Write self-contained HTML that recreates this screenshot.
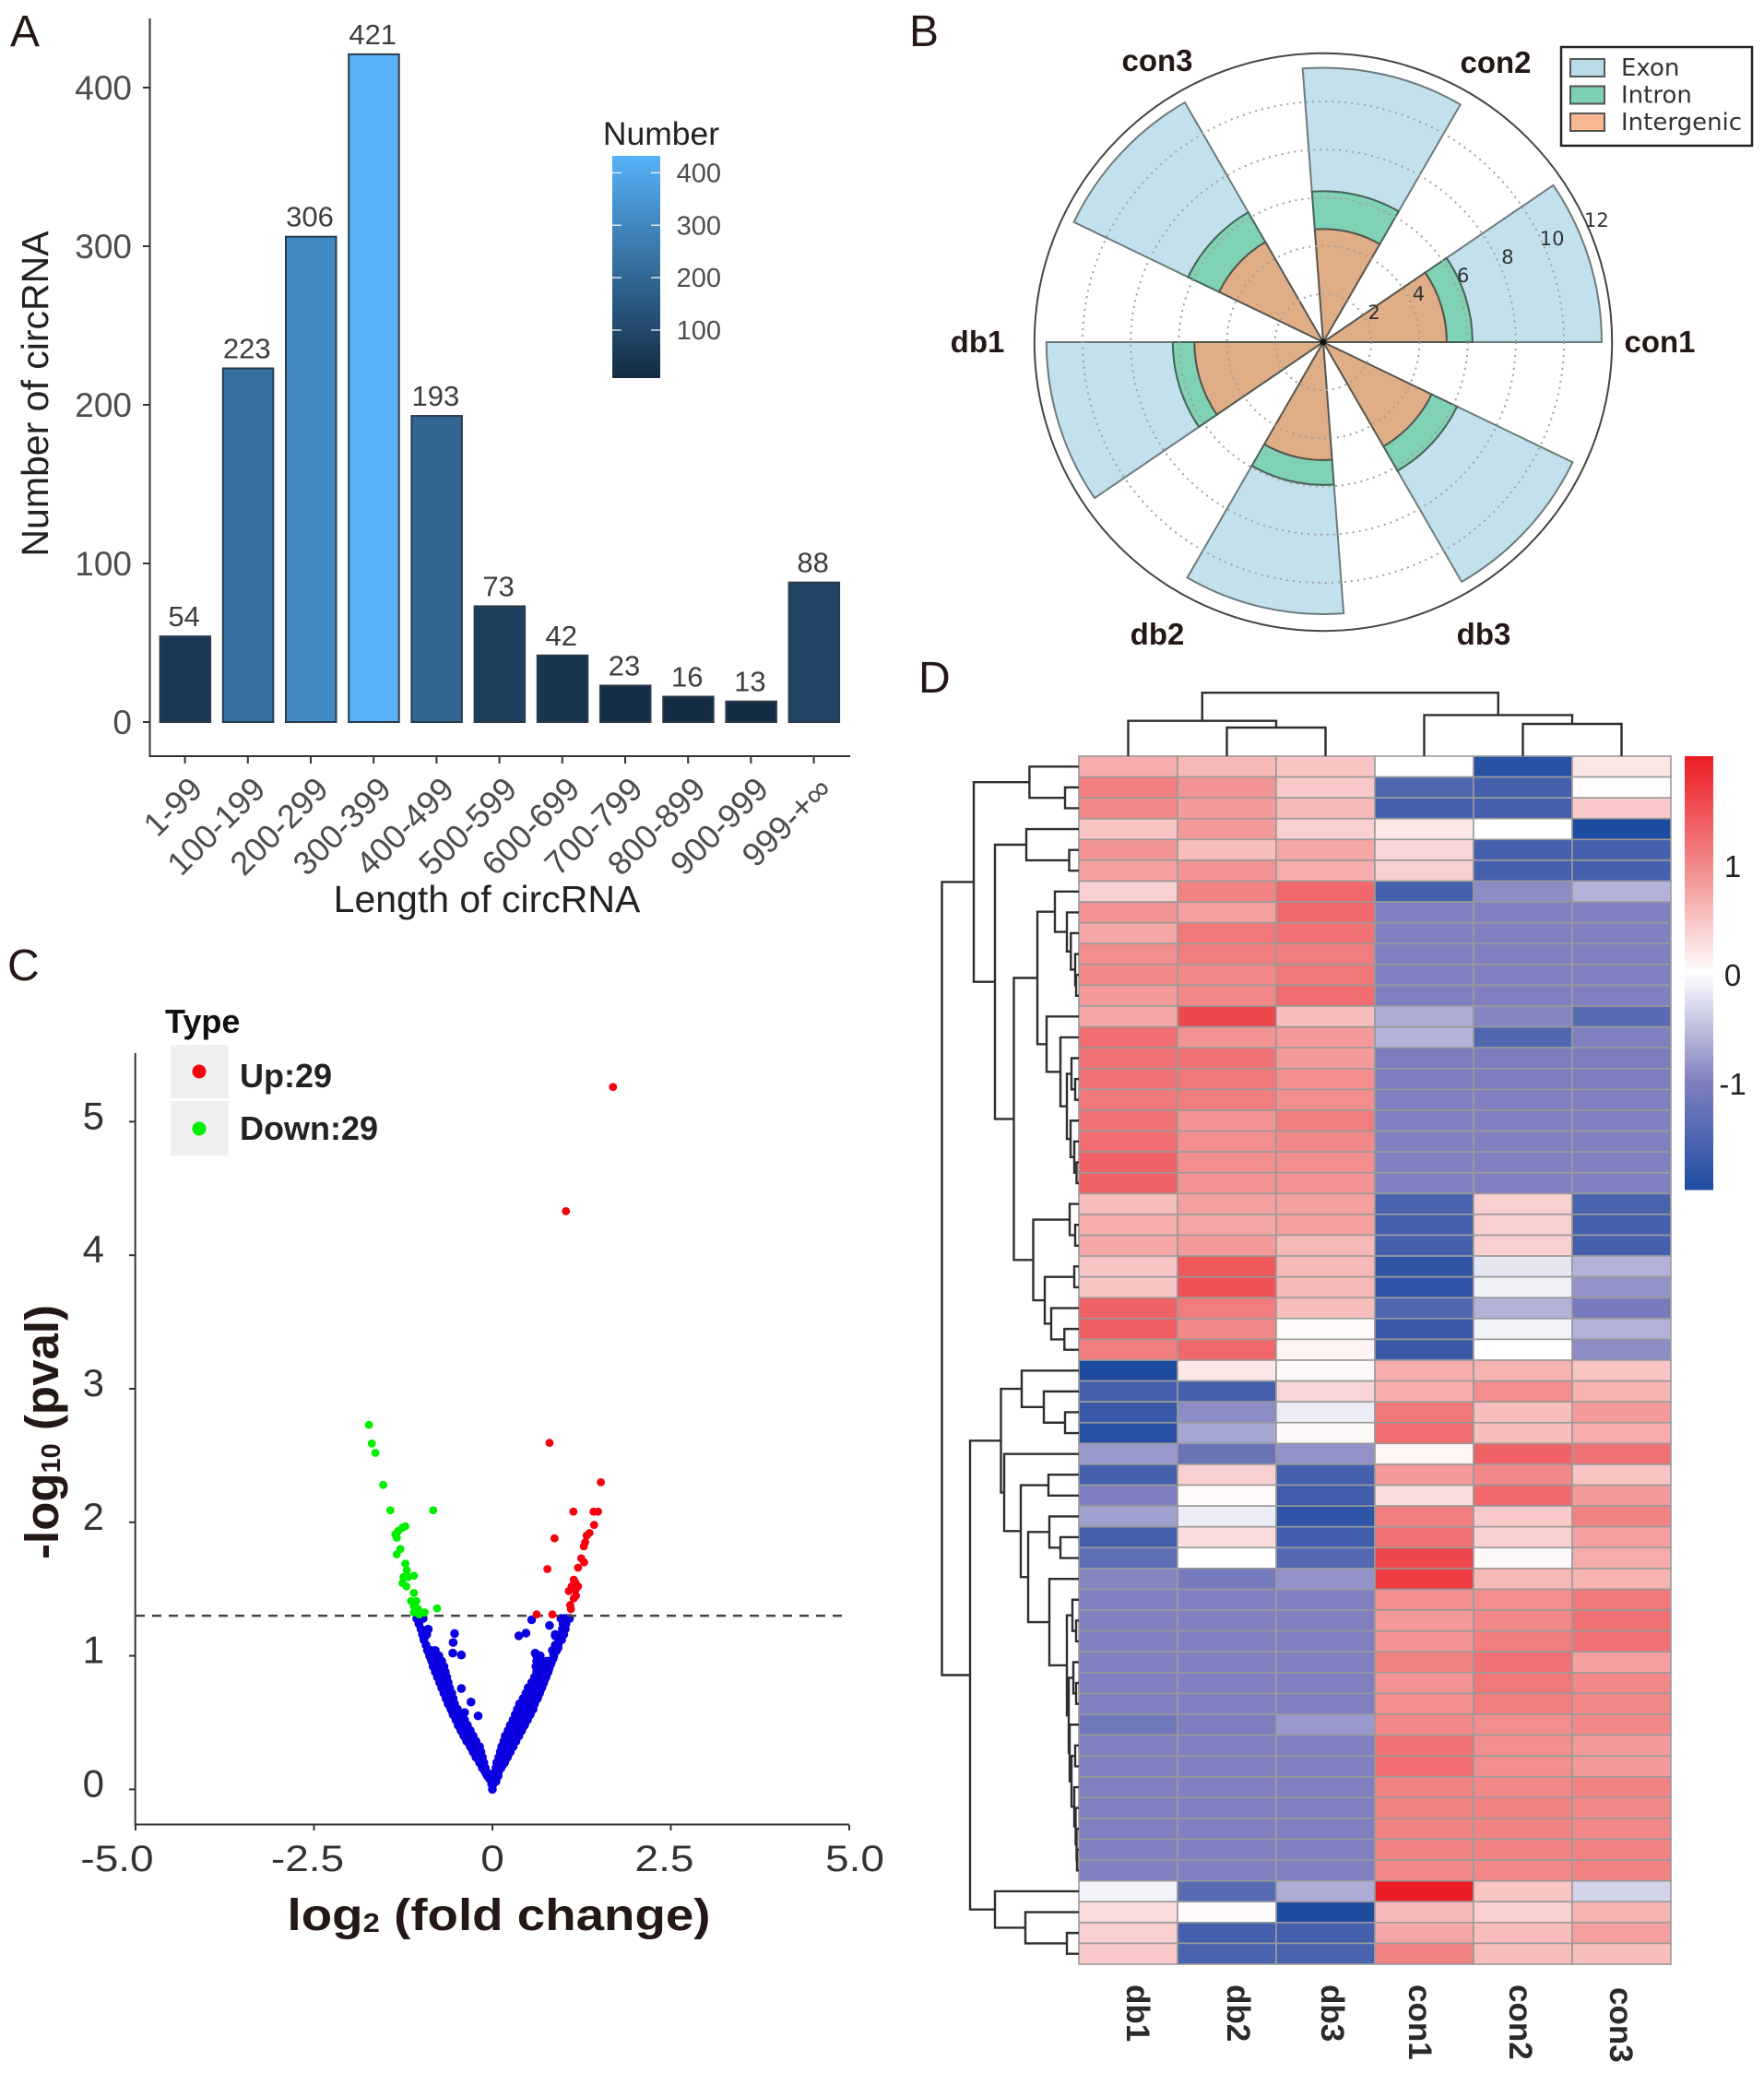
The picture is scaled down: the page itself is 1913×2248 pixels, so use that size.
<!DOCTYPE html>
<html lang="en">
<head>
<meta charset="utf-8">
<title>circRNA analysis figure</title>
<style>
html,body{margin:0;padding:0;background:#fff;}
svg{display:block;font-family:"Liberation Sans",Arial,sans-serif;}
.panel{font-size:48px;fill:#231815;}
</style>
</head>
<body>
<svg id="fig" xmlns="http://www.w3.org/2000/svg" width="1913" height="2248" viewBox="0 0 1913 2248">
  <rect x="0" y="0" width="1913" height="2248" fill="#fff"/>
  <text class="panel" x="11" y="50">A</text>
  <text class="panel" x="986" y="50">B</text>
  <text class="panel" x="8" y="1063">C</text>
  <text class="panel" x="996" y="751">D</text>
  <g id="panelA"></g>
  <g id="panelB"></g>
  <g id="panelC">
    <text transform="translate(63,1553) rotate(-90)" text-anchor="middle" font-weight="bold" font-size="51" fill="#231815">-log<tspan font-size="29" dy="2">10</tspan><tspan dy="-2"> (pval)</tspan></text>
    <text transform="translate(541,2093) scale(1.14,1)" text-anchor="middle" font-weight="bold" font-size="48" fill="#231815">log<tspan font-size="29" dy="2">2</tspan><tspan dy="-2"> (fold change)</tspan></text>
    <text x="179" y="1120" font-weight="bold" font-size="36" fill="#111">Type</text>
    <rect x="185" y="1133" width="63" height="58" fill="#f0f0f0"/>
    <rect x="185" y="1194" width="63" height="59" fill="#f0f0f0"/>
    <circle cx="216" cy="1162" r="7.5" fill="#f8000c"/>
    <circle cx="216" cy="1224" r="7.5" fill="#00ee00"/>
    <text x="260" y="1179" font-weight="bold" font-size="36" fill="#222">Up:29</text>
    <text x="260" y="1236" font-weight="bold" font-size="36" fill="#222">Down:29</text>
  </g>
  <g id="panelD"></g>
</svg>
<script>
/* ---------- Panel A data ---------- */
const lengthCategories = ["1-99","100-199","200-299","300-399","400-499","500-599","600-699","700-799","800-899","900-999","999-+∞"];
const circCounts = [54,223,306,421,193,73,42,23,16,13,88];
const countTicks = [0,100,200,300,400];
const legendTicks = [100,200,300,400];

/* ---------- Panel B data ---------- */
const sampleNames = ["con1","con2","con3","db1","db2","db3"];
const wedgeAngles = [0,60,120,180,240,300];
const intergenicValues = [5.13,4.7,4.8,5.35,4.9,5.0];
const intronValues = [1.07,1.57,1.43,0.9,1.03,1.17];
const exonValues = [5.37,5.13,5.27,5.25,5.37,5.33];
const radialTicks = [2,4,6,8,10,12];
const regionNames = ["Exon","Intron","Intergenic"];

/* ---------- Panel C data ---------- */
const volcanoXTicks = [-5,-2.5,0,2.5,5];
const volcanoXLabels = ["-5.0","-2.5","0","2.5","5.0"];
const volcanoYTicks = [0,1,2,3,4,5];
const redPoints = [[1.69,5.26],[1.03,4.33],[0.80,2.595],[1.52,2.30],[1.135,2.08],[1.417,2.08],[1.48,2.08],[1.425,1.98],[1.36,1.92],[1.32,1.90],[0.87,1.88],[1.30,1.85],[1.28,1.82],[1.245,1.73],[1.285,1.70],[0.77,1.65],[1.2,1.66],[1.14,1.57],[1.11,1.52],[1.2,1.52],[1.07,1.485],[1.165,1.495],[1.14,1.43],[1.17,1.45],[1.09,1.38],[1.10,1.35],[0.62,1.31],[0.84,1.31],[1.16,1.55]];
const greenPoints = [[-1.73,2.73],[-1.69,2.59],[-1.64,2.52],[-1.53,2.28],[-1.43,2.09],[-0.83,2.09],[-1.22,1.97],[-1.26,1.96],[-1.32,1.935],[-1.36,1.91],[-1.34,1.885],[-1.29,1.80],[-1.34,1.76],[-1.22,1.69],[-1.2,1.64],[-1.1,1.60],[-1.245,1.59],[-1.18,1.59],[-1.26,1.545],[-1.205,1.52],[-1.1,1.47],[-1.14,1.41],[-1.065,1.41],[-1.1,1.37],[-1.04,1.35],[-0.775,1.355],[-1.1,1.325],[-0.95,1.325],[-1.025,1.31]];
const blueLeftRows = [[0,[0]],[0.04,[-0.01]],[0.08,[-0.04]],[0.12,[-0.06,-0.09]],[0.16,[-0.10,-0.14]],[0.20,[-0.12,-0.18]],[0.24,[-0.14,-0.19,-0.23]],[0.28,[-0.16,-0.21,-0.27]],[0.32,[-0.18,-0.25,-0.31]],[0.36,[-0.23,-0.30,-0.36]],[0.40,[-0.27,-0.33,-0.40]],[0.44,[-0.31,-0.38,-0.44]],[0.48,[-0.35,-0.42,-0.48]],[0.52,[-0.39,-0.45,-0.51]],[0.56,[-0.45,-0.50,-0.55]],[0.60,[-0.49,-0.54,-0.58]],[0.64,[-0.53,-0.58,-0.62]],[0.68,[-0.55,-0.60,-0.65]],[0.72,[-0.57,-0.63,-0.68]],[0.76,[-0.60,-0.66,-0.71]],[0.80,[-0.62,-0.68,-0.74]],[0.84,[-0.64,-0.70,-0.77]],[0.88,[-0.66,-0.73,-0.80]],[0.92,[-0.68,-0.75,-0.83]],[0.96,[-0.71,-0.78,-0.85]],[1.00,[-0.75,-0.82,-0.88]],[1.04,[-0.80,-0.86,-0.91]],[1.08,[-0.93]],[1.12,[-0.96]],[1.16,[-0.98,-0.92]],[1.20,[-1.00,-0.90]],[1.24,[-1.03]],[1.28,[-1.06,-1.01,-0.97]]];
const blueRightRows = [[0.04,[0.01]],[0.08,[0.03,0.05]],[0.12,[0.03,0.08]],[0.16,[0.05,0.12]],[0.20,[0.06,0.12,0.17]],[0.24,[0.09,0.15,0.21]],[0.28,[0.11,0.17,0.25]],[0.32,[0.13,0.20,0.29]],[0.36,[0.16,0.23,0.33]],[0.40,[0.18,0.25,0.31,0.37]],[0.44,[0.22,0.29,0.35,0.41]],[0.48,[0.25,0.32,0.39,0.45]],[0.52,[0.29,0.36,0.43,0.49]],[0.56,[0.32,0.39,0.46,0.53]],[0.60,[0.35,0.43,0.50,0.57]],[0.64,[0.38,0.45,0.52,0.59]],[0.68,[0.43,0.50,0.57,0.63]],[0.72,[0.47,0.54,0.60,0.66]],[0.76,[0.50,0.57,0.63,0.69]],[0.80,[0.55,0.61,0.66,0.72]],[0.84,[0.59,0.65,0.70,0.75]],[0.88,[0.62,0.68,0.78]],[0.92,[0.61,0.67,0.74,0.80]],[0.96,[0.62,0.68,0.76,0.83]],[1.00,[0.62,0.67,0.86]],[1.04,[0.84,0.90]],[1.08,[0.88,0.92]],[1.12,[0.93,0.97]],[1.16,[0.88,0.96,1.00]],[1.20,[0.98,1.02]],[1.24,[0.99,1.03]],[1.28,[0.96,1.00,1.05,1.08]]];
const blueEdgeLeft = [[-0.07,0.10],[-0.11,0.14],[-0.15,0.18],[-0.19,0.22],[-0.24,0.26],[-0.28,0.30],[-0.32,0.34],[-0.37,0.38],[-0.41,0.42],[-0.45,0.46],[-0.48,0.50],[-0.52,0.54],[-0.56,0.58],[-0.59,0.62],[-0.62,0.66],[-0.65,0.70],[-0.68,0.74],[-0.71,0.78],[-0.74,0.82],[-0.77,0.86],[-0.80,0.90],[-0.83,0.94],[-0.86,0.98],[-0.88,1.02]];
const blueEdgeRight = [[0.05,0.06],[0.08,0.10],[0.09,0.14],[0.14,0.18],[0.18,0.22],[0.22,0.26],[0.25,0.30],[0.29,0.34],[0.33,0.38],[0.37,0.42],[0.42,0.46],[0.46,0.50],[0.50,0.54],[0.54,0.58],[0.57,0.62],[0.60,0.66],[0.64,0.70],[0.67,0.74],[0.70,0.78],[0.73,0.82],[0.76,0.86],[0.79,0.90],[0.82,0.94],[0.85,0.98]];
const blueOutliers = [[-0.53,1.167],[-0.55,1.10],[-0.555,1.02],[-0.435,1.006],[-0.435,0.755],[-0.30,0.654],[-0.20,0.55],[-0.39,0.575],[-0.90,1.197],[0.55,1.27],[0.80,1.227],[0.47,1.17],[0.37,1.15],[0.88,1.15],[0.92,1.06],[0.60,1.02]];
const significanceLine = 1.3;

/* ---------- Panel D data ---------- */
const heatColumns = ["db1","db2","db3","con1","con2","con3"];
const heatValues = [
[0.7,0.6,0.5,0,-1.9,0.2],[1.1,0.9,0.45,-1.5,-1.6,0.02],[1.0,0.85,0.6,-1.6,-1.6,0.45],[0.5,0.85,0.4,0.2,0,-2],[0.9,0.55,0.75,0.35,-1.6,-1.6],[0.8,0.9,0.7,0.4,-1.6,-1.6],
[0.4,1.05,1.3,-1.6,-0.9,-0.6],[0.9,0.8,1.3,-1,-1,-1],[0.75,1.15,1.2,-1,-1,-1],[0.95,1.1,1.1,-1,-1,-1],[1.0,1.0,1.15,-1,-1,-1],[0.85,1.0,1.25,-1,-1,-1],
[0.75,1.6,0.55,-0.65,-0.95,-1.4],[1.25,0.9,0.85,-0.6,-1.5,-1.0],[1.2,1.2,0.85,-1.05,-1.05,-1.05],[1.2,1.15,0.95,-1.05,-1.05,-1.05],[1.15,1.1,0.95,-1,-1,-1],[1.2,0.9,1.1,-1,-1,-1],[1.25,0.95,1.0,-1,-1,-1],[1.35,0.95,0.95,-1,-1,-1],[1.35,0.9,0.9,-1,-1,-1],
[0.55,0.8,0.8,-1.55,0.4,-1.55],[0.7,0.75,0.8,-1.6,0.4,-1.6],[0.75,0.85,0.6,-1.6,0.4,-1.6],[0.5,1.45,0.6,-1.8,-0.2,-0.6],[0.5,1.5,0.6,-1.85,-0.12,-0.85],[1.35,1.1,0.55,-1.5,-0.6,-1.1],[1.4,1.0,0.03,-1.75,-0.1,-0.6],[1.1,1.3,0.1,-1.75,0,-0.9],
[-2,0.2,0.05,0.7,0.65,0.5],[-1.6,-1.6,0.35,0.7,0.95,0.65],[-1.75,-0.9,-0.15,1.15,0.55,0.85],[-1.9,-0.7,0.05,1.25,0.55,0.7],[-0.8,-1.25,-0.85,0.08,1.35,1.2],[-1.6,0.4,-1.6,0.85,1.0,0.5],[-1.05,0.03,-1.65,0.3,1.3,0.85],[-0.75,-0.15,-1.85,1.1,0.45,1.05],[-1.6,0.3,-1.65,1.2,0.4,0.8],[-1.35,0,-1.45,1.6,0.05,0.7],[-0.95,-1.1,-0.85,1.7,0.6,0.65],
[-1,-1,-1,0.95,0.95,1.15],[-1,-1,-1,0.85,1.0,1.2],[-1,-1,-1,0.9,1.1,1.2],[-1,-1,-1,1.05,1.2,0.8],[-1,-1,-1,0.9,1.15,1.0],[-1,-1,-1,0.95,1.1,1.0],[-1.15,-1.05,-0.8,1.0,0.95,1.0],[-1,-1,-1,1.2,0.95,0.85],[-1,-1,-1,1.25,0.95,0.85],[-1,-1,-1,1.05,1.0,1.05],[-1,-1,-1,1.05,1.05,1.0],[-1,-1,-1,1.05,1.05,1.0],[-1,-1,-1,1.05,1.05,1.05],[-1,-1,-1,1.0,1.0,1.05],
[-0.1,-1.4,-0.65,2.0,0.5,-0.35],[0.3,0.03,-2,0.6,0.4,0.65],[0.4,-1.6,-1.6,0.75,0.55,0.8],[0.45,-1.55,-1.55,1.05,0.55,0.55]
];
const heatScaleTicks = [1,0,-1];
const columnTree = [68.8,[38.3,0,[31,1,2]],[44.6,3,[35,4,5]]];
const rowTree = [148.5,
  [114,[53.6,0,[15,1,2]],[91,[57,3,[10.5,4,5]],[70.5,
    [45,[26,6,[13,7,[8.7,8,[4,9,[3,10,11]]]]],[35,12,[20,13,[13,[8,14,[4,15,16]],[9,17,[5,18,[2.5,19,20]]]]]]],
    [49.5,[10,21,[4,22,23]],[37,[5,24,25],[30,26,[15.7,27,28]]]]]]],
  [118,[84.5,[62,29,[38,30,[15,31,32]]],[81,33,[63,[33,34,35],[55,[32,36,[20,37,38]],[32,39,[13,[7,40,[3,41,42]],[11,[6,43,[3,44,45]],[10,46,[8,[4,47,48],[5,49,[3.5,50,[2.5,51,[2,52,53]]]]]]]]]]]]],
    [91,54,[58,55,[13,56,57]]]]];

/* ---------- helpers ---------- */
const NS = "http://www.w3.org/2000/svg";
function make(tag, attrs, parent, text) {
  const el = document.createElementNS(NS, tag);
  for (const k in attrs) el.setAttribute(k, attrs[k]);
  if (text !== undefined) el.textContent = text;
  parent.appendChild(el);
  return el;
}
function hexLerp(a, b, t) {
  return "rgb(" + a.map((v, i) => Math.round(v + (b[i] - v) * t)).join(",") + ")";
}

/* ---------- Panel A ---------- */
(function () {
  const g = document.getElementById("panelA");
  const xA = i => 200.6 + i * 68.2;
  const yA = v => 783 - v * 1.72;
  const minC = Math.min(...circCounts), maxC = Math.max(...circCounts);
  const lowC = [19,43,67], highC = [86,177,247];
  const fillA = v => hexLerp(lowC, highC, (v - minC) / (maxC - minC));

  const axisY = make("line", {x1:162.5,y1:20,x2:162.5,y2:821,stroke:"#333","stroke-width":2}, g);
  
  
  const axisX = make("line", {x1:161.5,y1:820,x2:922,y2:820,stroke:"#333","stroke-width":2}, g);
  
  

  countTicks.forEach(t => {
    const tick = make("line", {x1:155,x2:162,y1:yA(t),y2:yA(t),stroke:"#333","stroke-width":2}, g);
    
    
    const lab = make("text", {x:143,y:yA(t)+13,"text-anchor":"end","font-size":37,fill:"#4d4d4d"}, g, String(t));
    
    
  });

  lengthCategories.forEach((c, i) => {
    const x = xA(i), v = circCounts[i];
    const bar = make("rect", {x:x-27,y:yA(v),width:54.5,height:yA(0)-yA(v),fill:fillA(v),stroke:"#2b3b4b","stroke-width":2}, g);
    
    
    const val = make("text", {x:x-1,y:yA(v)-11,"text-anchor":"middle","font-size":31,fill:"#3d3d3d"}, g, String(v));
    
    
    const tick = make("line", {x1:x,x2:x,y1:820,y2:828,stroke:"#333","stroke-width":2}, g);
    
    
    const lab = make("text", {"text-anchor":"end","font-size":36,fill:"#4d4d4d",transform:"translate("+(x+21)+",858) rotate(-45)"}, g, c);
    
    
  });

  const t1 = make("text", {transform:"translate(52,427) rotate(-90)","text-anchor":"middle","font-size":41,fill:"#222"}, g, "Number of circRNA");
  
  
  const t2 = make("text", {x:528,y:989,"text-anchor":"middle","font-size":41,fill:"#222"}, g, "Length of circRNA");
  
  

  const defs = make("defs", {}, g);
  const grad = make("linearGradient", {id:"numGrad",x1:0,y1:1,x2:0,y2:0}, defs);
  make("stop", {offset:"0","stop-color":"#132B43"}, grad);
  make("stop", {offset:"1","stop-color":"#56B1F7"}, grad);
  const bar = make("rect", {x:664,y:169,width:52,height:241,fill:"url(#numGrad)"}, g);
  
  
  const lt = make("text", {x:717,y:157,"text-anchor":"middle","font-size":35.5,fill:"#222"}, g, "Number");
  
  
  const yLeg = v => 358 - (v - 100) * 0.5687;
  legendTicks.forEach(t => {
    const a = make("line", {x1:664,x2:674,y1:yLeg(t),y2:yLeg(t),stroke:"#fff","stroke-opacity":.8,"stroke-width":1.5}, g);
    
    
    const b = make("line", {x1:706,x2:716,y1:yLeg(t),y2:yLeg(t),stroke:"#fff","stroke-opacity":.8,"stroke-width":1.5}, g);
    
    
    const l = make("text", {x:782,y:yLeg(t)+10,"text-anchor":"end","font-size":29,fill:"#4d4d4d"}, g, String(t));
    
    
  });
})();

/* ---------- Panel B ---------- */
(function () {
  const g = document.getElementById("panelB");
  const cx = 1435, cy = 371, unit = 26.1, span = 34.3;
  const rad = d => d * Math.PI / 180;
  const px = (r, a) => cx + r * unit * Math.cos(rad(a));
  const py = (r, a) => cy - r * unit * Math.sin(rad(a));
  function wedge(r0, r1, a0) {
    const a1 = a0 + span, R1 = r1 * unit, R0 = r0 * unit;
    let d = "M" + px(r0,a0) + " " + py(r0,a0) + " L" + px(r1,a0) + " " + py(r1,a0);
    d += " A" + R1 + " " + R1 + " 0 0 0 " + px(r1,a1) + " " + py(r1,a1);
    d += " L" + px(r0,a1) + " " + py(r0,a1);
    if (r0 > 0) d += " A" + R0 + " " + R0 + " 0 0 1 " + px(r0,a0) + " " + py(r0,a0);
    return d + "Z";
  }
  const colours = {exon:"#c3e1ec", intron:"#80d2b5", inter:"#dfae87"};
  sampleNames.forEach((s, i) => {
    const a = wedgeAngles[i];
    const r1 = intergenicValues[i], r2 = r1 + intronValues[i], r3 = r2 + exonValues[i];
    const w1 = make("path", {d:wedge(r2,r3,a),fill:colours.exon,stroke:"#6d7a7e","stroke-width":2}, g);
    
    
    const w2 = make("path", {d:wedge(r1,r2,a),fill:colours.intron,stroke:"#46635a","stroke-width":2}, g);
    
    
    const w3 = make("path", {d:wedge(0,r1,a),fill:colours.inter,stroke:"#55554e","stroke-width":2}, g);
    
    
  });
  radialTicks.forEach(t => {
    const outer = t === radialTicks[radialTicks.length - 1];
    const c = make("circle", outer
      ? {cx:cx,cy:cy,r:t*unit,fill:"none",stroke:"#444","stroke-width":2}
      : {cx:cx,cy:cy,r:t*unit,fill:"none",stroke:"#a0a0a0","stroke-width":2,"stroke-dasharray":"2 5"}, g);
    
    
    const l = make("text", {x:px(t,22.5)+7,y:py(t,22.5)-5,"text-anchor":"middle","font-size":21,fill:"#333","font-family":"DejaVu Sans, sans-serif"}, g, String(t));
    
    
  });
  const hub = make("circle", {cx:cx,cy:cy,r:3.5,fill:"#111"}, g);
  
  
  const labelNudgeX = [0,7,10,0,10,-6];
  const labelNudgeY = [0,-1,-3,0,-1,-1];
  sampleNames.forEach((s, i) => {
    const a = rad(wedgeAngles[i]);
    const lx = cx - 5 + Math.cos(a) * 370 + labelNudgeX[i];
    const ly = cy + 8 * Math.abs(Math.sin(a)) / 0.866 - Math.sin(a) * 358 + 11 + labelNudgeY[i];
    const t = make("text", {x:lx,y:ly,"text-anchor":"middle","font-size":33,"font-weight":"bold",fill:"#231815"}, g, s);
    
    
  });
  const box = make("rect", {x:1693,y:51,width:207,height:107,fill:"#fff",stroke:"#222","stroke-width":2.5}, g);
  
  
  const swatchFill = ["#b9dbe8","#7dd0b2","#f5b892"];
  regionNames.forEach((n, i) => {
    const y = 64 + i * 29.5;
    const sw = make("rect", {x:1703,y:y,width:37,height:19,fill:swatchFill[i],stroke:"#555","stroke-width":2}, g);
    
    
    const tx = make("text", {x:1758,y:y+18,"font-size":26,fill:"#333","font-family":"DejaVu Sans, sans-serif"}, g, n);
    
    
  });
})();

/* ---------- Panel C ---------- */
(function () {
  const g = document.getElementById("panelC");
  const xV = v => 534 + v * 77.4;
  const yV = v => 1940.4 - v * 144.8;
  const ax1 = make("line", {x1:146.7,y1:1142,x2:146.7,y2:1979.5,stroke:"#333","stroke-width":2}, g);
  
  
  const ax2 = make("line", {x1:146,y1:1978.5,x2:921,y2:1978.5,stroke:"#333","stroke-width":2}, g);
  
  
  volcanoYTicks.forEach(t => {
    const k = make("line", {x1:140,x2:146,y1:yV(t),y2:yV(t),stroke:"#333","stroke-width":2}, g);
    
    
    const l = make("text", {x:113,y:yV(t)+8,"text-anchor":"end","font-size":42,fill:"#333"}, g, String(t));
    
    
  });
  const xShift = v => v === -5 ? -20 : v === 5 ? 6 : v === 0 ? 0 : -7;
  volcanoXTicks.forEach((t, i) => {
    const k = make("line", {x1:xV(t),x2:xV(t),y1:1979,y2:1985,stroke:"#333","stroke-width":2}, g);
    
    
    const l = make("text", {transform:"translate("+(xV(t)+xShift(t))+",2029) scale(1.15,1)","text-anchor":"middle","font-size":40,fill:"#333"}, g, volcanoXLabels[i]);
    
    
  });
  const R = 4.4, blueR = 4.8;
  const blues = make("g", {fill:"#0a00e0"}, g);
  
  
  [blueLeftRows, blueRightRows].forEach(rows => rows.forEach(row => row[1].forEach(x => {
    const c = make("circle", {cx:xV(x),cy:yV(row[0]),r:blueR}, blues);
    
    
  })));
  [blueEdgeLeft, blueEdgeRight, blueOutliers].forEach(list => list.forEach(p => {
    const c = make("circle", {cx:xV(p[0]),cy:yV(p[1]),r:blueR}, blues);
    
    
  }));
  const dash = make("line", {x1:147,x2:915,y1:yV(significanceLine),y2:yV(significanceLine),stroke:"#444","stroke-width":2.5,"stroke-dasharray":"10 8"}, g);
  
  
  redPoints.forEach(p => {
    const c = make("circle", {cx:xV(p[0]),cy:yV(p[1]),r:R,fill:"#f5000c"}, g);
    
    
  });
  greenPoints.forEach(p => {
    const c = make("circle", {cx:xV(p[0]),cy:yV(p[1]),r:R,fill:"#00ee00"}, g);
    
    
  });
})();

/* ---------- Panel D ---------- */
(function () {
  const g = document.getElementById("panelD");
  const left = 1170, top = 820, colW = 107, rowH = 1310 / heatValues.length;
  const xH = j => left + j * colW;
  const yH = i => top + i * rowH;
  const stops = [[30,76,160],[128,128,192],[255,255,255],[242,136,136],[236,28,36]];
  function heatColor(v) {
    const t = Math.max(0, Math.min(3.9999, v + 2));
    const k = Math.floor(t);
    return hexLerp(stops[k], stops[k + 1], t - k);
  }
  heatValues.forEach((row, i) => row.forEach((v, j) => {
    const c = make("rect", {x:xH(j),y:yH(i),width:colW,height:rowH,fill:heatColor(v),stroke:"#9a9a9a","stroke-width":1.6}, g);
    
    
  }));
  const columnLabelNudge = [10,12,7,-5,-3,-1];
  heatColumns.forEach((n, j) => {
    const ty = n === "con3" ? 2155 : 2152;
    const t = make("text", {transform:"translate("+(xH(j)+colW/2+columnLabelNudge[j])+","+ty+") rotate(90)","dominant-baseline":"central","font-size":35,"font-weight":"bold",fill:"#2a2a2a"}, g, n);
    
    
  });
  function walk(node, pos, seg) {
    if (typeof node === "number") return {p:pos(node), h:0};
    const a = walk(node[1], pos, seg), b = walk(node[2], pos, seg);
    seg.push([a.p, a.h, b.p, b.h, node[0]]);
    return {p:(a.p + b.p) / 2, h:node[0]};
  }
  const topSeg = [];
  walk(columnTree, j => xH(j) + colW / 2, topSeg);
  const topPath = make("path", {d:topSeg.map(s => {
    const y = h => top - h;
    return "M"+s[0]+" "+y(s[1])+" V"+y(s[4])+" H"+s[2]+" V"+y(s[3]);
  }).join(" "),fill:"none",stroke:"#2e2e2e","stroke-width":2.4}, g);
  
  
  const leftSeg = [];
  walk(rowTree, i => yH(i) + rowH / 2, leftSeg);
  const leftPath = make("path", {d:leftSeg.map(s => {
    const x = h => left - h;
    return "M"+x(s[1])+" "+s[0]+" H"+x(s[4])+" V"+s[2]+" H"+x(s[3]);
  }).join(" "),fill:"none",stroke:"#2e2e2e","stroke-width":2.4}, g);
  
  

  const defs = make("defs", {}, g);
  const grad = make("linearGradient", {id:"heatGrad",x1:0,y1:1,x2:0,y2:0}, defs);
  stops.forEach((s, i) => {
    make("stop", {offset:String(i / (stops.length - 1)),"stop-color":"rgb("+s.join(",")+")"}, grad);
  });
  const barC = make("rect", {x:1827,y:820,width:31,height:470.5,fill:"url(#heatGrad)"}, g);
  
  
  heatScaleTicks.forEach(t => {
    const l = make("text", {x:1879,y:1057-t*118+12,"text-anchor":"middle","font-size":33,fill:"#222"}, g, String(t));
    
    
  });
})();
</script>
</body>
</html>
